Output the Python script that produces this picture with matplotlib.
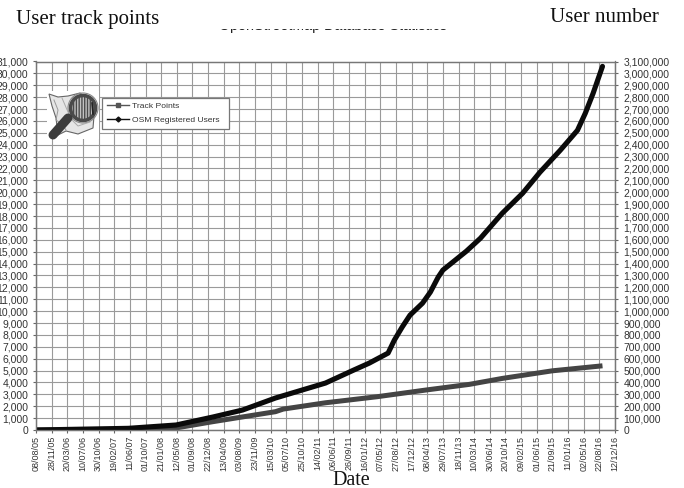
# OSM track points and registered users over time
import matplotlib
matplotlib.use('Agg')
import matplotlib.pyplot as plt
from matplotlib.lines import Line2D
from matplotlib.patches import Polygon, Circle, Rectangle

date_labels = ['08/08/05', '28/11/05', '20/03/06', '10/07/06', '30/10/06', '19/02/07', '11/06/07',
               '01/10/07', '21/01/08', '12/05/08', '01/09/08', '22/12/08', '13/04/09', '03/08/09',
               '23/11/09', '15/03/10', '05/07/10', '25/10/10', '14/02/11', '06/06/11', '26/09/11',
               '16/01/12', '07/05/12', '27/08/12', '17/12/12', '08/04/13', '29/07/13', '18/11/13',
               '10/03/14', '30/06/14', '20/10/14', '09/02/15', '01/06/15', '21/09/15', '11/01/16',
               '02/05/16', '22/08/16', '12/12/16']

# x is given in units of one date label step
user_t = [0, 5.9, 8.95, 11.3, 13.2, 15.3, 18.5, 20.3, 21.3, 22.5, 22.9, 23.4, 23.9, 24.7,
          25.2, 25.7, 26.0, 27.5, 28.4, 29.8, 31.1, 32.2, 33.5, 34.6, 35.1, 35.6, 36.2]
users = [0, 14000, 42000, 109000, 168000, 269000, 395000, 504000, 563000, 647000, 756000,
         866000, 966000, 1067000, 1160000, 1286000, 1345000, 1504000, 1613000, 1824000,
         1992000, 2168000, 2353000, 2521000, 2664000, 2832000, 3059000]

track_t = [0, 5.9, 8.95, 11.3, 13.2, 15.3, 15.8, 18.5, 21.8, 24.9, 27.7, 29.8, 33.0, 36.2]
track = [0, 0, 170, 700, 1100, 1540, 1760, 2290, 2800, 3360, 3840, 4340, 4980, 5400]

W, H = 684, 488
GRID = '#9a9a9a'
TEXT = '#333333'
SANS = 'Liberation Sans'
SERIF = 'Liberation Serif'

fig = plt.figure(figsize=(W / 100, H / 100), dpi=100, facecolor='white')
ax = fig.add_axes([36 / W, 1 - 430 / H, 579 / W, 368.5 / H])
ax2 = ax.twinx()

ax.plot(track_t, track, color='#444444', lw=3.6, solid_capstyle='butt')
ax2.plot(user_t, users, color='#0a0a0a', lw=3.7, solid_capstyle='round')

ax.set_xlim(0, len(date_labels) - 1)
ax.set_ylim(0, 31000)
ax2.set_ylim(0, 3100000)

ax.set_xticks(range(len(date_labels)))
ax.set_xticklabels(date_labels, rotation=90, fontsize=6.5, family=SANS, color=TEXT)
ax.set_yticks(range(0, 31001, 1000))
ax.set_yticklabels(['{:,}'.format(v) for v in range(0, 31001, 1000)], fontsize=7.5, family=SANS, color=TEXT)
ax2.set_yticks(range(0, 3100001, 100000))
ax2.set_yticklabels(['{:,}'.format(v) for v in range(0, 3100001, 100000)], fontsize=7.5, family=SANS, color=TEXT)

ax.grid(True, color=GRID, lw=0.8)
ax.set_axisbelow(True)
ax.tick_params(axis='x', length=2.5, width=0.8, color='#666666', pad=1.5)
ax.tick_params(axis='y', length=2.5, width=0.8, color='#666666', pad=3)
ax2.tick_params(axis='y', length=2.5, width=0.8, color='#666666', pad=3.5)
for a in (ax, ax2):
    for s in a.spines.values():
        s.set_color('#777777')
        s.set_linewidth(0.9)

# legend, the box is drawn apart because the text sits left of centre in it
ax2.add_patch(Rectangle((102 / W, 1 - 129 / H), 127 / W, 31 / H, transform=fig.transFigure,
                        fc='white', ec='#777777', lw=0.9, clip_on=False, zorder=4))
handles = [Line2D([], [], color='#555555', lw=1, marker='s', ms=3.5),
           Line2D([], [], color='#111111', lw=1, marker='D', ms=2.5)]
leg = ax2.legend(handles, ['Track Points', 'OSM Registered Users'], loc='upper left',
                 bbox_to_anchor=(102 / W, 1 - 97 / H), bbox_transform=fig.transFigure,
                 prop={'family': SANS, 'size': 6.1}, frameon=False,
                 borderaxespad=0, borderpad=0.6, labelspacing=0.75,
                 handlelength=2.6, handletextpad=0.4, labelcolor=TEXT)
leg.set_zorder(5)

# logo, drawn in pixel coordinates of the figure
logo = fig.add_axes([0, 0, 1, 1], facecolor='none')
logo.set_xlim(0, W)
logo.set_ylim(H, 0)
logo.axis('off')
logo.add_patch(Rectangle((47, 91), 52, 48, fc='white', ec='none'))
logo.add_patch(Polygon([(49, 94), (58, 97), (68, 96), (80, 93), (95, 104), (93, 128), (78, 134),
                        (66, 131), (58, 135), (56, 118), (52, 106)],
                       fc='#e6e6e6', ec='#666666', lw=0.8))
logo.plot([54, 58, 56, 62, 66], [100, 110, 120, 124, 130], color='#999999', lw=0.7)
logo.plot([62, 68, 72, 78, 90], [98, 112, 120, 126, 122], color='#aaaaaa', lw=0.7)
logo.plot([68, 53], [118, 135], color='#3c3c3c', lw=6.5, solid_capstyle='round')
logo.add_patch(Circle((83, 108), 12.5, fc='#c2c2c2', ec='#4a4a4a', lw=2.6, hatch='||||||'))
logo.add_patch(Circle((83, 108), 15, fc='none', ec='#8a8a8a', lw=0.8))
logo.plot([92, 93], [103, 114], color='#222222', lw=1.2)

# axis captions, as placed on the page
fig.text(16 / W, 1 - 24 / H, 'User track points', family=SERIF, fontsize=15, color='#111111')
fig.text(550 / W, 1 - 22 / H, 'User number', family=SERIF, fontsize=15, color='#111111')
fig.text(351 / W, 1 - 485 / H, 'Date', family=SERIF, fontsize=14.5, color='#111111', ha='center')

# original title, covered by the caption area apart from its lowest edge
fig.text(333 / W, 1 - 30 / H, 'OpenStreetMap Database Statistics', family=SANS, fontsize=10.3,
         color='#222222', ha='center', zorder=1)
cover = Rectangle((200 / W, 1 - 28.5 / H), 270 / W, 20 / H, transform=fig.transFigure,
                  fc='white', ec='none', zorder=2)
fig.add_artist(cover)

fig.savefig('out.png', dpi=100)
